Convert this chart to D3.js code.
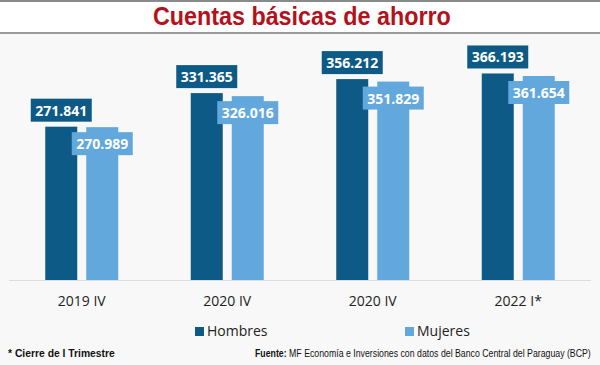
<!DOCTYPE html>
<html>
<head>
<meta charset="utf-8">
<script src="https://cdn.jsdelivr.net/npm/d3@7"></script>
<style>
  body { margin: 0; background: #fff; }
  svg { display: block; }
  .cond { font-family: "Liberation Sans", Arial, sans-serif; }
  .open { font-family: "Open Sans", sans-serif; }
</style>
</head>
<body>
<div id="chart"></div>
<script>
var categories = ["2019 IV", "2020 IV", "2020 IV", "2022 I*"];
var series = ["Hombres", "Mujeres"];
var hombres = [271841, 331365, 356212, 366193];
var mujeres = [270989, 326016, 351829, 361654];
var colors = ["#0c5a85", "#62a8dd"];

var width = 600, height = 365;

var svg = d3.select("#chart")
    .append("svg")
    .attr("width", width)
    .attr("height", height);

// backgrounds and rules
svg.append("rect").attr("x", 0).attr("y", 0).attr("width", width).attr("height", height).attr("fill", "#f8f8f8");
svg.append("rect").attr("x", 0).attr("y", 0).attr("width", width).attr("height", 33).attr("fill", "#fff");
svg.append("rect").attr("x", 0).attr("y", 0).attr("width", width).attr("height", 2).attr("fill", "#8a8a8a");
svg.append("rect").attr("x", 0).attr("y", 32).attr("width", width).attr("height", 2).attr("fill", "#9a9a9a");

// no condensed font installed: squeeze a normal one horizontally to the measured width
function condensed(sel, x, y, w) {
    var natural = sel.node().getComputedTextLength();
    sel.attr("transform", "translate(" + x + "," + y + ") scale(" + (w / natural) + ",1)");
}

var title = svg.append("text")
    .attr("class", "cond")
    .attr("font-size", 25)
    .attr("font-weight", "bold")
    .attr("fill", "#b3111c")
    .text("Cuentas básicas de ahorro");
condensed(title, 153, 25, 298);

var idx = d3.range(categories.length);
var x0 = d3.scaleBand().domain(idx).range([9, 591]);
var mid = x0.bandwidth() / 2;
var x1 = d3.scaleBand().domain(series).range([mid - 36.5, mid + 36.5]).paddingInner(9 / 41);
var y = d3.scaleLinear().domain([0, 400000]).range([280, 54.4]);

// baseline
svg.append("line")
    .attr("x1", 9).attr("x2", 591)
    .attr("y1", 280.5).attr("y2", 280.5)
    .attr("stroke", "#dcdcdc")
    .attr("stroke-width", 1);

var values = [hombres, mujeres];
var fmt = function (v) { return d3.format(",")(v).replace(/,/g, "."); };

series.forEach(function (s, si) {
    var g = svg.append("g");
    g.selectAll("rect.bar")
        .data(idx)
        .enter().append("rect")
        .attr("class", "bar")
        .attr("x", function (i) { return x0(i) + x1(s); })
        .attr("y", function (i) { return y(values[si][i]); })
        .attr("width", x1.bandwidth())
        .attr("height", function (i) { return y(0) - y(values[si][i]); })
        .attr("fill", colors[si]);
});

// value labels
series.forEach(function (s, si) {
    idx.forEach(function (i) {
        var v = values[si][i];
        var cx = x0(i) + x1(s) + x1.bandwidth() / 2;
        var boxH = 23, boxW = 61;
        var top = si === 0 ? y(v) - 5 - boxH : y(v) + 5;
        svg.append("rect")
            .attr("x", cx - boxW / 2)
            .attr("y", top)
            .attr("width", boxW)
            .attr("height", boxH)
            .attr("fill", colors[si]);
        svg.append("text")
            .attr("class", "open")
            .attr("x", cx)
            .attr("y", top + 17)
            .attr("text-anchor", "middle")
            .attr("font-size", 14)
            .attr("font-weight", "bold")
            .attr("fill", "#fff")
            .text(fmt(v));
    });
});

// category labels
svg.selectAll("text.cat")
    .data(idx)
    .enter().append("text")
    .attr("class", "cat open")
    .attr("x", function (i) { return x0(i) + mid; })
    .attr("y", 306)
    .attr("text-anchor", "middle")
    .attr("font-size", 14)
    .attr("fill", "#222")
    .text(function (i) { return categories[i]; });

// legend
var legendX = [195, 405];
series.forEach(function (s, si) {
    svg.append("rect")
        .attr("x", legendX[si])
        .attr("y", 327)
        .attr("width", 9)
        .attr("height", 9)
        .attr("fill", colors[si]);
    svg.append("text")
        .attr("class", "open")
        .attr("x", legendX[si] + 12)
        .attr("y", 336)
        .attr("font-size", 14)
        .attr("fill", "#222")
        .text(s);
});

// footer
var note = svg.append("text")
    .attr("class", "cond")
    .attr("font-size", 11.5)
    .attr("font-weight", "bold")
    .attr("fill", "#111")
    .text("* Cierre de I Trimestre");
condensed(note, 8, 357, 107);

var src = svg.append("text")
    .attr("class", "cond")
    .attr("font-size", 11)
    .attr("fill", "#111");
src.append("tspan").attr("font-weight", "bold").text("Fuente:");
src.append("tspan").text(" MF Economía e Inversiones con datos del Banco Central del Paraguay (BCP)");
condensed(src, 255, 357, 336);
</script>
</body>
</html>
